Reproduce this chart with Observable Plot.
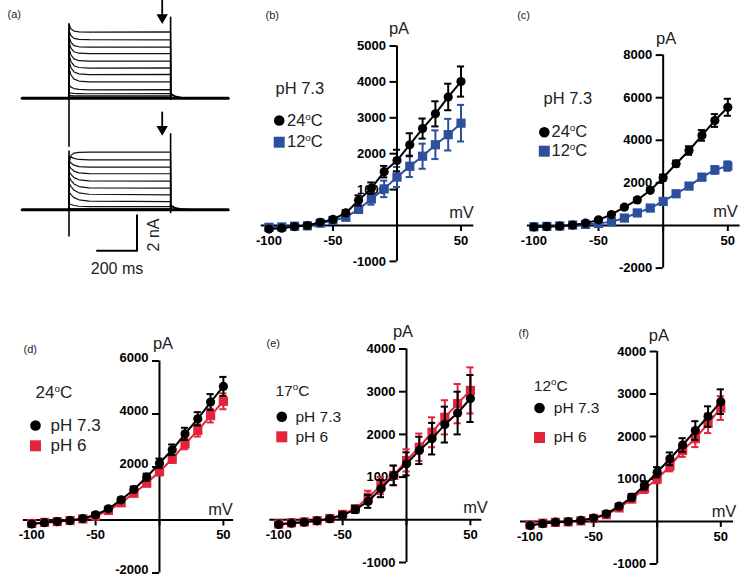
<!DOCTYPE html>
<html><head><meta charset="utf-8">
<script src="https://cdn.jsdelivr.net/npm/d3@7"></script>
<script src="https://cdn.jsdelivr.net/npm/@observablehq/plot@0.6"></script>
<style>
body{margin:0;background:#fff;}
#fig{position:relative;width:740px;height:578px;overflow:hidden;background:#fff;}
#fig svg{position:absolute;}
</style></head><body><div id="fig"></div>
<script>
// ---------- data ----------
const voltages = [-100,-90,-80,-70,-60,-50,-40,-30,-20,-10,0,10,20,30,40,50];
const xTickValues = [-100,-50,0,50];

// (b) pH 7.3, 24 vs 12 C
const b24 = [-100,-75,-30,0,90,170,350,700,1040,1500,1810,2250,2700,3110,3580,4010];
const b24err = [40,30,30,30,40,50,80,140,160,160,300,320,280,350,370,420];
const b12 = [-50,-40,-20,-10,65,140,230,450,740,1020,1350,1650,1930,2250,2530,2850];
const b12err = [30,30,30,30,40,50,80,100,160,230,280,300,350,400,440,510];
const bTicks = [-1000,1000,2000,3000,4000,5000];

// (c) pH 7.3, 24 vs 12 C
const c24 = [-70,-50,-30,20,110,265,515,860,1200,1650,2240,2900,3520,4230,4930,5550];
const c24err = [30,30,30,30,40,50,60,80,100,120,150,150,200,250,300,400];
const c12 = [-60,-40,-20,20,50,100,170,350,590,820,1130,1490,1850,2270,2610,2790];
const c12err = [30,30,30,30,30,40,50,60,80,90,100,110,130,150,180,220];
const cTicks = [-2000,2000,4000,6000,8000];

// (d) 24 C, pH 7.3 vs pH 6
const d73 = [-150,-100,-60,-20,55,195,420,760,1150,1620,2140,2650,3250,3820,4450,5040];
const d73err = [30,30,30,30,40,50,70,90,110,130,180,200,230,250,300,360];
const d6 = [-130,-90,-60,-20,40,145,360,650,1010,1390,1830,2300,2870,3380,3940,4480];
const d6err = [30,30,30,30,40,50,60,80,100,120,150,150,200,230,260,300];
const dTicks = [-2000,2000,4000,6000];

// (e) 17 C
const e73 = [-110,-80,-55,-25,25,110,240,430,730,1040,1310,1625,1900,2230,2500,2840];
const e73err = [40,40,40,40,40,60,80,150,200,230,270,320,370,420,500,550];
const e6 = [-100,-70,-50,-20,30,125,260,530,800,1040,1390,1700,2050,2400,2720,3030];
const e6err = [40,40,40,40,40,60,80,150,200,230,260,320,350,400,460,540];
const eTicks = [-1000,1000,2000,3000,4000];

// (f) 12 C
const f73 = [-95,-50,-15,0,25,80,180,360,570,850,1160,1475,1800,2140,2470,2820];
const f73err = [30,30,30,30,30,40,50,60,80,100,120,150,160,220,240,290];
const f6 = [-80,-40,-20,-10,15,70,160,320,530,770,1000,1300,1670,1950,2310,2670];
const f6err = [30,30,30,30,30,40,50,60,80,100,100,120,150,200,230,280];
const fTicks = [-1000,1000,2000,3000,4000];

// (a) current traces (nA) at these times (ms) after pulse onset
const traceTimes = [0, 10, 25, 50, 100, 508];
const topTraces = [
  [4.15,3.88,3.76,3.72,3.70,3.72],
  [3.80,3.50,3.35,3.30,3.28,3.27],
  [3.45,3.12,2.95,2.88,2.86,2.86],
  [3.15,2.80,2.60,2.52,2.50,2.50],
  [2.80,2.42,2.20,2.10,2.08,2.08],
  [2.45,2.05,1.82,1.72,1.69,1.70],
  [2.10,1.70,1.47,1.36,1.32,1.33],
  [1.70,1.30,1.07,0.96,0.92,0.92],
  [0.75,0.62,0.54,0.49,0.47,0.48],
  [0.30,0.28,0.27,0.26,0.25,0.26],
  [0.14,0.14,0.13,0.13,0.13,0.13],
  [0.06,0.06,0.06,0.06,0.06,0.06]
];
const bottomTraces = [
  [2.60,3.05,3.18,3.22,3.23,3.23],
  [3.00,2.95,2.88,2.82,2.80,2.80],
  [2.75,2.62,2.50,2.42,2.39,2.39],
  [2.45,2.32,2.17,2.07,2.03,2.02],
  [2.15,1.98,1.80,1.68,1.62,1.61],
  [1.85,1.65,1.45,1.30,1.23,1.21],
  [1.50,1.30,1.10,0.95,0.87,0.84],
  [1.00,0.85,0.68,0.56,0.49,0.46],
  [0.35,0.30,0.24,0.20,0.18,0.18],
  [0.08,0.07,0.06,0.06,0.06,0.06]
];
const sweep = {start: -234, end: 796, pulseEnd: 508};
const tailTimes = [508, 530, 560, 600];
const tailLevels = [0.25, 0.1, 0.03, 0];
const spikesTop = [{t: 0, lo: -2.75, hi: 4.17}, {t: 508, lo: -0.13, hi: 4.54}];
const spikesBottom = [{t: 0, lo: -1.53, hi: 3.3}, {t: 508, lo: -0.22, hi: 4.26}];
const arrows = [{t: 466, from: 5.47, to: 4.35}];
const scaleBar = {t0: 140, ms: 200, i0: -2.3, nA: 2};

// ---------- helpers ----------
const FONT = '"Liberation Sans", Arial, Helvetica, sans-serif';
const BLUE = "#2c4f9e", RED = "#e3243b", BLACK = "#000";
const fig = document.getElementById("fig");
const NS = "http://www.w3.org/2000/svg";

function place(svg, left, top) {
  svg.style.left = left + "px";
  svg.style.top = top + "px";
  // superscript "o" in degree labels
  svg.querySelectorAll("text").forEach(t => {
    const m = t.textContent.match(/^(.*\d)oC$/);
    if (m && t.children.length === 0) {
      const fs = parseFloat(t.getAttribute("font-size")) || 16;
      t.textContent = "";
      const a = document.createElementNS(NS, "tspan"); a.textContent = m[1];
      const o = document.createElementNS(NS, "tspan"); o.textContent = "o";
      o.setAttribute("font-size", (fs * 0.62).toFixed(1)); o.setAttribute("dy", (-fs * 0.38).toFixed(1));
      const c = document.createElementNS(NS, "tspan"); c.textContent = "C"; c.setAttribute("dy", (fs * 0.38).toFixed(1));
      t.append(a, o, c);
    }
  });
  fig.appendChild(svg);
}

function label(text, left, top, ax, ay, opts = {}) {
  return Plot.text([text], {frameAnchor: "top-left", dx: ax - left, dy: ay - top, text: d => d,
    textAnchor: "start", lineAnchor: "middle", fontSize: 16, fill: "#222", ...opts});
}
function legendDot(left, top, ax, ay, symbol, color) {
  return Plot.dot([0], {frameAnchor: "top-left", dx: ax - left, dy: ay - top, symbol,
    r: symbol === "square" ? 6.2 : 5.3, fill: color, stroke: "none"});
}

function ivPanel(p) {
  const xs = d3.scaleLinear(p.xDomain, p.xRange), ys = d3.scaleLinear(p.yDomain, p.yRange);
  const pxPerMV = (p.xRange[1] - p.xRange[0]) / (p.xDomain[1] - p.xDomain[0]);
  const cap = 3.6 / pxPerMV;
  const tickFont = {fontSize: 13, fontWeight: "bold", label: null};
  const marks = [
    // y-axis ticks (no text) and tick labels drawn at the x = 0 line
    Plot.axisY(p.yTicks, {anchor: "left", dx: xs(0), tickSize: 7, strokeWidth: 2, fill: "none", label: null}),
    Plot.axisY(p.yTicks, {anchor: "left", dx: xs(0), dy: p.textDy || 0, tickSize: 0, tickPadding: 11,
      tickFormat: d => String(d), ...tickFont}),
    Plot.axisX(xTickValues, {anchor: "bottom", dy: ys(0) - p.height, tickSize: 6, tickPadding: 4, strokeWidth: 2,
      tickFormat: d => d === 0 ? "" : String(d), ...tickFont}),
    Plot.ruleY([0], {x1: p.xDomain[0], x2: p.xDomain[1], strokeWidth: 2}),
    Plot.ruleX([0], {y1: p.yDomain[0], y2: p.yDomain[1], strokeWidth: 2})
  ];
  // draw second series first, black on top
  for (const s of [p.series[1], p.series[0]]) {
    const rows = voltages.map((v, i) => ({v, i: s.values[i], e: s.err[i]}));
    marks.push(
      Plot.line(rows, {x: "v", y: "i", stroke: s.color, strokeWidth: 2}),
      Plot.ruleX(rows, {x: "v", y1: d => d.i - d.e, y2: d => d.i + d.e, stroke: s.color, strokeWidth: 2}),
      Plot.ruleY(rows, {y: d => d.i + d.e, x1: d => d.v - cap, x2: d => d.v + cap, stroke: s.color, strokeWidth: 2}),
      Plot.ruleY(rows, {y: d => d.i - d.e, x1: d => d.v - cap, x2: d => d.v + cap, stroke: s.color, strokeWidth: 2}),
      Plot.dot(rows, {x: "v", y: "i", symbol: s.symbol, r: s.symbol === "square" ? 5.2 : 4.6, fill: s.color, stroke: "none"})
    );
  }
  const L = p.left, T = p.top;
  marks.push(
    label(p.letter[0], L, T, p.letter[1], p.letter[2], {fontSize: 11}),
    label("pA", L, T, p.pA[0], p.pA[1], {textAnchor: "middle", fontSize: 16.5}),
    label("mV", L, T, p.mV[0], p.mV[1], {textAnchor: "middle", fontSize: 16.5}),
    label(p.title[0], L, T, p.title[1], p.title[2], {fontSize: p.legendSize})
  );
  p.series.forEach(s => {
    marks.push(legendDot(L, T, s.key[0], s.key[1], s.symbol, s.color),
      label(s.name, L, T, s.key[2], s.key[1], {fontSize: p.legendSize}));
  });
  const svg = Plot.plot({
    width: p.width, height: p.height, margin: 0,
    style: {background: "transparent", overflow: "visible", fontFamily: FONT, color: "#000"},
    x: {domain: p.xDomain, range: p.xRange},
    y: {domain: p.yDomain, range: p.yRange},
    marks
  });
  place(svg, L, T);
}

// ---------- panel (a) ----------
function traceRows(set) {
  const rows = [];
  set.forEach((lev, k) => {
    rows.push({k, t: sweep.start, i: 0}, {k, t: 0, i: 0});
    traceTimes.forEach((t, j) => rows.push({k, t, i: lev[j]}));
    rows.push({k, t: sweep.pulseEnd, i: 0}, {k, t: sweep.end, i: 0});
  });
  return rows;
}
(function panelA() {
  const SHIFT = 111.6;
  const base = [{t: sweep.start, i: 0}, {t: sweep.end, i: 0}];
  const tail = tailTimes.map((t, j) => ({t, i: tailLevels[j]}));
  const bar = [{t: scaleBar.t0, i: scaleBar.i0}, {t: scaleBar.t0 + scaleBar.ms, i: scaleBar.i0},
               {t: scaleBar.t0 + scaleBar.ms, i: scaleBar.i0 + scaleBar.nA}];
  const marks = [];
  for (const [set, spikes, dy] of [[topTraces, spikesTop, 0], [bottomTraces, spikesBottom, SHIFT]]) {
    marks.push(
      Plot.line(traceRows(set), {x: "t", y: "i", z: "k", stroke: "#111", strokeWidth: 1.2, dy}),
      Plot.line(base, {x: "t", y: "i", stroke: "#000", strokeWidth: 3, dy}),
      Plot.line(tail, {x: "t", y: "i", stroke: "#000", strokeWidth: 2, dy}),
      Plot.ruleX(spikes, {x: "t", y1: "lo", y2: "hi", stroke: "#000", strokeWidth: 1.6, dy}),
      Plot.ruleX(arrows, {x: "t", y1: "from", y2: d => d.to + 0.25, stroke: "#000", strokeWidth: 1.8, dy}),
      Plot.dot(arrows, {x: "t", y: "to", symbol: "triangle", rotate: 180, r: 4.2, fill: "#000", dy: dy - 3})
    );
  }
  marks.push(
    Plot.line(bar, {x: "t", y: "i", stroke: "#000", strokeWidth: 2, dy: SHIFT}),
    Plot.text([`${scaleBar.ms} ms`], {x: scaleBar.t0 + scaleBar.ms / 2, y: scaleBar.i0, dy: SHIFT + 18,
      text: d => d, fontSize: 16, fill: "#222", lineAnchor: "middle"}),
    Plot.text([`${scaleBar.nA} nA`], {x: scaleBar.t0 + scaleBar.ms, y: scaleBar.i0 + scaleBar.nA / 2, dx: 16.5, dy: SHIFT + 2,
      text: d => d, fontSize: 16, fill: "#222", rotate: -90, lineAnchor: "middle"}),
    label("(a)", 0, 0, 7, 14, {fontSize: 11})
  );
  const svg = Plot.plot({
    width: 240, height: 290, margin: 0,
    style: {background: "transparent", overflow: "visible", fontFamily: FONT},
    x: {domain: [0, 500], range: [68.5, 168.5], axis: null},
    y: {domain: [0, 5], range: [97.7, 8.45], axis: null},
    marks
  });
  place(svg, 0, 0);
})();

// ---------- panels (b)-(f) ----------
ivPanel({left: 240, top: 0, width: 250, height: 290,
  xDomain: [-106, 60], xRange: [20.8, 233.3], yDomain: [-1000, 5000], yRange: [260.9, 45.5], yTicks: bTicks,
  letter: ["(b)", 265, 15], pA: [398.5, 28], mV: [461, 212], title: ["pH 7.3", 275, 88], legendSize: 16.5,
  series: [
    {name: "24oC", values: b24, err: b24err, color: BLACK, symbol: "circle", key: [278.7, 120, 286.5]},
    {name: "12oC", values: b12, err: b12err, color: BLUE, symbol: "square", key: [278.7, 141.7, 286.5]}
  ]});
ivPanel({left: 490, top: 0, width: 250, height: 290,
  xDomain: [-105, 59.5], xRange: [36.9, 249.6], yDomain: [-2000, 8000], yRange: [267.6, 54.6], yTicks: cTicks,
  letter: ["(c)", 516.7, 15], pA: [665.7, 38.3], mV: [725, 211], title: ["pH 7.3", 543, 98], legendSize: 16.5,
  series: [
    {name: "24oC", values: c24, err: c24err, color: BLACK, symbol: "circle", key: [543.8, 131.7, 551]},
    {name: "12oC", values: c12, err: c12err, color: BLUE, symbol: "square", key: [543.8, 150.7, 551]}
  ]});
ivPanel({left: 0, top: 290, width: 240, height: 288, textDy: -3,
  xDomain: [-106.5, 58], xRange: [22.9, 233.1], yDomain: [-2000, 6000], yRange: [282.5, 70.5], yTicks: dTicks,
  letter: ["(d)", 23, 348.7], pA: [162.5, 343.3], mV: [220, 509], title: ["24oC", 35, 391.7], legendSize: 17,
  series: [
    {name: "pH 7.3", values: d73, err: d73err, color: BLACK, symbol: "circle", key: [35, 425, 50]},
    {name: "pH 6", values: d6, err: d6err, color: RED, symbol: "square", key: [35, 445.3, 50]}
  ]});
ivPanel({left: 240, top: 290, width: 250, height: 288,
  xDomain: [-107, 59], xRange: [29.3, 241.4], yDomain: [-1000, 4000], yRange: [272, 58.5], yTicks: eTicks,
  letter: ["(e)", 266, 343], pA: [402.5, 331.7], mV: [475, 507], title: ["17oC", 275, 391], legendSize: 15.5,
  series: [
    {name: "pH 7.3", values: e73, err: e73err, color: BLACK, symbol: "circle", key: [281.3, 416.3, 295]},
    {name: "pH 6", values: e6, err: e6err, color: RED, symbol: "square", key: [281.3, 436.3, 295]}
  ]});
ivPanel({left: 490, top: 290, width: 250, height: 288,
  xDomain: [-107.5, 60], xRange: [30, 243], yDomain: [-1000, 4000], yRange: [273.5, 61], yTicks: fTicks,
  letter: ["(f)", 518, 333], pA: [658.3, 335], mV: [723.5, 511], title: ["12oC", 533.3, 385.8], legendSize: 15.5,
  series: [
    {name: "pH 7.3", values: f73, err: f73err, color: BLACK, symbol: "circle", key: [539, 407.5, 553.3]},
    {name: "pH 6", values: f6, err: f6err, color: RED, symbol: "square", key: [539, 437, 553.3]}
  ]});
</script></body></html>
